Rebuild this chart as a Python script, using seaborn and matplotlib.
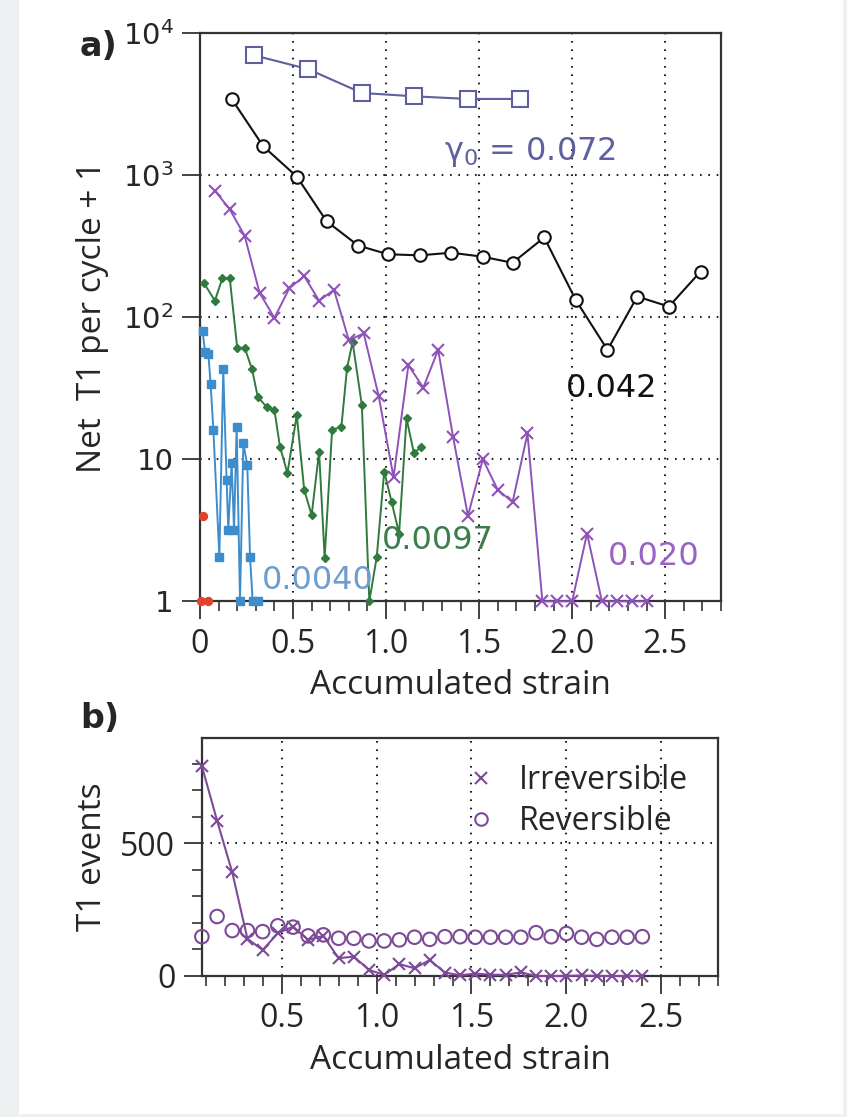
import matplotlib
matplotlib.use("Agg")
import matplotlib.pyplot as plt
import seaborn as sns
import numpy as np
import pandas as pd
from matplotlib.lines import Line2D
from matplotlib.patches import Rectangle
from matplotlib.ticker import FixedLocator, FixedFormatter, NullLocator, MultipleLocator

# ---------------- data ----------------
# panel a: net T1 per cycle + 1 versus accumulated strain
x_072 = [0.29, 0.58, 0.87, 1.15, 1.44, 1.72]
y_072 = [7000, 5600, 3800, 3600, 3450, 3450]

x_042 = [0.17, 0.34, 0.52, 0.68, 0.85, 1.01, 1.18, 1.35, 1.52, 1.68, 1.85, 2.02,
         2.19, 2.35, 2.52, 2.69]
y_042 = [3450, 1600, 980, 475, 320, 278, 273, 285, 267, 242, 365, 132, 59, 140, 119, 210]

x_020 = [0.08, 0.16, 0.24, 0.32, 0.40, 0.48, 0.56, 0.64, 0.72, 0.80, 0.88, 0.96,
         1.04, 1.12, 1.20, 1.28, 1.36, 1.44, 1.52, 1.60, 1.68, 1.76, 1.84, 1.92,
         2.00, 2.08, 2.16, 2.24, 2.32, 2.40]
y_020 = [780, 576, 375, 149, 99, 160, 195, 131, 156, 69, 77, 28, 7.5, 46, 32, 59,
         14.4, 4.0, 10, 6.1, 5.0, 15.2, 1, 1, 1, 3.0, 1, 1, 1, 1]

x_0097 = [0.02, 0.08, 0.12, 0.16, 0.20, 0.24, 0.28, 0.31, 0.36, 0.40, 0.43, 0.47,
          0.52, 0.56, 0.60, 0.64, 0.67, 0.71, 0.76, 0.79, 0.82, 0.87, 0.91, 0.95,
          0.99, 1.03, 1.07, 1.11, 1.15, 1.19]
y_0097 = [175, 131, 188, 188, 61, 61, 43, 27.6, 23.2, 22.2, 12.2, 8.0, 20.5, 6.1,
          4.05, 11.3, 2.03, 16.1, 17, 43.7, 67, 24, 1, 2.06, 8.2, 5.0, 3.0, 19.4,
          11, 12.3]

x_0040 = [0.014, 0.027, 0.045, 0.057, 0.072, 0.104, 0.125, 0.143, 0.152, 0.170,
          0.183, 0.197, 0.215, 0.233, 0.254, 0.269, 0.283, 0.314]
y_0040 = [80, 57, 55, 34, 16, 2.06, 43, 7.1, 3.2, 9.4, 3.2, 17, 1, 13, 9.1, 2.06, 1, 1]

x_red = [0.005, 0.045, 0.018]
y_red = [1, 1, 4]

# panel b: T1 events for gamma0 = 0.020
irreversible = [790, 585, 390, 140, 98, 161, 186, 136, 151, 67, 73, 23, 4, 45, 29, 60,
                13, 3, 9, 5, 4, 14, 0, 0, 0, 2, 0, 0, 0, 0]
reversible = [148, 224, 171, 171, 167, 189, 184, 151, 155, 142, 142, 132, 132, 136,
              146, 138, 148, 148, 146, 146, 146, 146, 163, 148, 160, 146, 138, 146,
              146, 148]

xticks_a = [0, 0.5, 1.0, 1.5, 2.0, 2.5]
xticklabels_a = ["0", "0.5", "1.0", "1.5", "2.0", "2.5"]
xticks_b = [0.5, 1.0, 1.5, 2.0, 2.5]
xticklabels_b = ["0.5", "1.0", "1.5", "2.0", "2.5"]
yticks_a = [1, 10, 100, 1000, 10000]
yticklabels_a = ["1", "10", "$10^2$", "$10^3$", "$10^4$"]
yticks_b = [0, 500]
yticklabels_b = ["0", "500"]

# ---------------- style ----------------
sns.set_theme(style="white")
plt.rcParams["font.family"] = ["Open Sans", "DejaVu Sans"]
plt.rcParams["mathtext.fontset"] = "dejavusans"

C_SLATE = "#5d5f9e"
C_BLACK = "#111111"
C_PURPLE = "#8e52b8"
C_PURPLE_B = "#7d4a98"
C_GREEN = "#2f7a3c"
C_BLUE = "#3d8dcc"
C_RED = "#e2412e"

fig = plt.figure(figsize=(8.47, 11.17), dpi=100)
fig.patch.set_facecolor("#edf1f2")
fig.patches.append(Rectangle((19 / 847, 3 / 1117), (843 - 19) / 847, 1 - 3 / 1117,
                             transform=fig.transFigure, facecolor="white",
                             edgecolor="none", zorder=-10))

ax1 = fig.add_axes([200 / 847, 1 - 601.3 / 1117, 521 / 847, 568 / 1117])
ax2 = fig.add_axes([201.7 / 847, 1 - 976 / 1117, 516.6 / 847, 237.7 / 1117])

grid_kw = dict(color="#222222", linestyle=(0, (0.8, 3.2)), linewidth=1.5)

for ax in (ax1, ax2):
    ax.set_facecolor("white")
    for s in ax.spines.values():
        s.set_visible(True)
        s.set_color("#333333")
        s.set_linewidth(1.6)
    ax.tick_params(which="major", direction="out", length=13, width=1.3,
                   color="#333333", labelsize=23, pad=6, left=True, bottom=True)
    ax.tick_params(which="minor", direction="out", length=7, width=1.2,
                   color="#333333", left=True, bottom=True)
    ax.set_axisbelow(True)

# ---------------- panel a ----------------
ax1.set_yscale("log")
line_kw = dict(ax=ax1, estimator=None, sort=False, clip_on=False, legend=False)

sns.lineplot(x=x_0040, y=y_0040, color=C_BLUE, lw=1.4, marker="s", markersize=6,
             mfc=C_BLUE, mec=C_BLUE, mew=1, zorder=3, **line_kw)
sns.lineplot(x=x_0097, y=y_0097, color=C_GREEN, lw=1.4, marker="D", markersize=4.5,
             mfc=C_GREEN, mec=C_GREEN, mew=1, zorder=4, **line_kw)
sns.lineplot(x=x_020, y=y_020, color=C_PURPLE, lw=1.4, marker="x", markersize=9,
             mec=C_PURPLE, mew=1.5, zorder=5, **line_kw)
sns.lineplot(x=x_042, y=y_042, color=C_BLACK, lw=1.5, marker="o", markersize=9,
             mfc="white", mec=C_BLACK, mew=1.5, zorder=6, **line_kw)
sns.lineplot(x=x_072, y=y_072, color=C_SLATE, lw=1.5, marker="s", markersize=12,
             mfc="white", mec=C_SLATE, mew=1.5, zorder=6, **line_kw)
sns.scatterplot(x=x_red, y=y_red, ax=ax1, color=C_RED, s=45, linewidth=0,
                zorder=7, clip_on=False, legend=False)

ax1.set_xlim(0, 2.8)
ax1.set_ylim(1, 1e4)
ax1.xaxis.set_major_locator(FixedLocator(xticks_a))
ax1.xaxis.set_major_formatter(FixedFormatter(xticklabels_a))
ax1.xaxis.set_minor_locator(MultipleLocator(0.1))
ax1.yaxis.set_major_locator(FixedLocator(yticks_a))
ax1.yaxis.set_major_formatter(FixedFormatter(yticklabels_a))
ax1.yaxis.set_minor_locator(NullLocator())
for lab in ax1.get_yticklabels():
    lab.set_fontfamily("DejaVu Sans")
    lab.set_fontsize(21)
ax1.grid(True, which="major", **grid_kw)

ax1.set_xlabel("Accumulated strain", fontsize=24, labelpad=6)
ax1.set_ylabel("Net  T1 per cycle + 1", fontsize=24)
ax1.yaxis.set_label_coords(-0.175, 0.5)

txt_kw = dict(fontsize=23, family="DejaVu Sans", va="center", ha="left", zorder=8)
ax1.text(1.31, 1466, "γ$_0$ = 0.072", color=C_SLATE, **txt_kw)
ax1.text(1.967, 31.6, "0.042", color=C_BLACK, **txt_kw)
ax1.text(2.19, 2.06, "0.020", color="#9a62c4", **txt_kw)
ax1.text(0.975, 2.70, "0.0097", color="#3d7d4b", **txt_kw)
ax1.text(0.335, 1.41, "0.0040", color="#6c9dcc", **txt_kw)

fig.text(80 / 847, 1 - 46 / 1117, "a)", fontsize=24, fontweight="bold",
         family="DejaVu Sans", va="center", ha="left")

# ---------------- panel b ----------------
sns.lineplot(x=x_020, y=irreversible, ax=ax2, color=C_PURPLE_B, lw=1.5, marker="x",
             markersize=9, mec=C_PURPLE_B, mew=1.5, estimator=None, sort=False,
             clip_on=False, legend=False, zorder=4)
sns.scatterplot(x=x_020, y=reversible, ax=ax2, marker="o", s=95, facecolor="none",
                edgecolor=C_PURPLE_B, linewidth=1.5, clip_on=False, legend=False,
                zorder=5)

ax2.set_xlim(0.079, 2.8)
ax2.set_ylim(0, 895)
ax2.xaxis.set_major_locator(FixedLocator(xticks_b))
ax2.xaxis.set_major_formatter(FixedFormatter(xticklabels_b))
ax2.xaxis.set_minor_locator(MultipleLocator(0.1))
ax2.yaxis.set_major_locator(FixedLocator(yticks_b))
ax2.yaxis.set_major_formatter(FixedFormatter(yticklabels_b))
ax2.yaxis.set_minor_locator(MultipleLocator(100))
ax2.grid(True, which="major", **grid_kw)

ax2.set_xlabel("Accumulated strain", fontsize=24, labelpad=6)
ax2.set_ylabel("T1 events", fontsize=24)
ax2.yaxis.set_label_coords(-0.18, 0.5)

handles = [Line2D([], [], linestyle="none", marker="x", markersize=9, mew=1.5,
                  color=C_PURPLE_B),
           Line2D([], [], linestyle="none", marker="o", markersize=9, mew=1.5,
                  mfc="none", mec=C_PURPLE_B)]
ax2.legend(handles, ["Irreversible", "Reversible"], loc="upper right",
           bbox_to_anchor=(0.985, 0.985), frameon=False, fontsize=23,
           handletextpad=0.6, labelspacing=0.25, borderpad=0.2, handlelength=1.2)

fig.text(80 / 847, 1 - 718 / 1117, "b)", fontsize=24, fontweight="bold",
         family="DejaVu Sans", va="center", ha="left")

fig.savefig("out.png", dpi=100, facecolor=fig.get_facecolor())
